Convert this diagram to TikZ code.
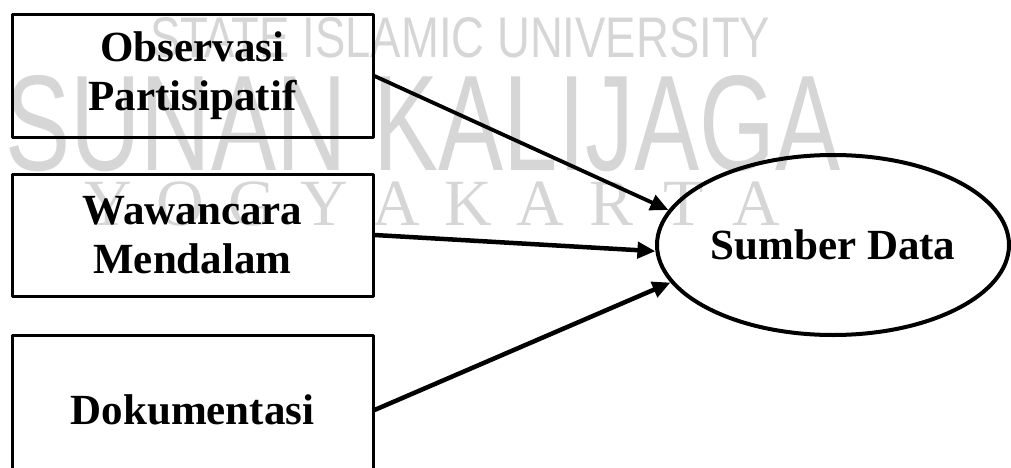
\documentclass[tikz,border=0pt]{standalone}
\usepackage{graphicx}
\usepackage{fontspec}
\setmainfont{Liberation Serif}
\newfontfamily\wmsans{Liberation Sans}
\usetikzlibrary{shapes.geometric,arrows.meta}
\definecolor{wmgray}{gray}{0.84}

\begin{document}
\begin{tikzpicture}[x=1pt,y=-1pt,line cap=round,line join=round,
  kotak/.style={draw,line width=3pt,minimum width=361pt,align=center,inner sep=0pt,
    font=\fontsize{43}{49}\selectfont\bfseries},
  panah/.style={line width=4.5pt,-{Triangle[length=18pt,width=16pt]}},
  wm/.style={text=wmgray,inner sep=0pt,anchor=base west}]
  \clip (0,0) rectangle (1011,468);
  \node[wm] (wmA) at (150,58) {\resizebox{620pt}{40pt}{\wmsans STATE ISLAMIC UNIVERSITY}};
  \node[wm] (wmB) at (5,170) {\resizebox{835pt}{95pt}{\wmsans SUNAN KALIJAGA}};
  \foreach \h [count=\i from 0] in {Y,O,G,Y,A,K,A,R,T,A}
    \node[wm,anchor=base,font=\fontsize{66}{66}\selectfont] (yk\i) at (108+\i*72,225) {\h};
  \node[kotak,minimum height=122pt] (obs) at (192.5,76) {Observasi\\Partisipatif};
  \node[kotak,minimum height=122pt] (waw) at (192.5,235) {Wawancara\\Mendalam};
  \node[kotak,minimum height=150pt] (dok) at (192.5,410) {Dokumentasi};
  \node[draw,ellipse,line width=4pt,minimum width=352pt,minimum height=180pt,inner sep=0pt,
    font=\fontsize{43}{49}\selectfont\bfseries] (src) at (833,245) {Sumber Data};
  \draw[panah,line width=3.8pt] (obs.east) -- (src.168);
  \draw[panah] (waw.east) -- (src.182);
  \draw[panah] (dok.east) -- (src.193);
\end{tikzpicture}
\end{document}
